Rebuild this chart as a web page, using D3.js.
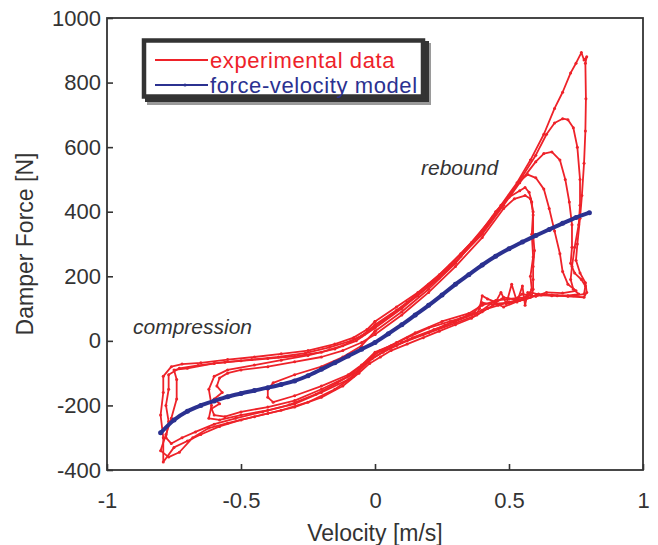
<!DOCTYPE html>
<html>
<head>
<meta charset="utf-8">
<script src="https://cdn.jsdelivr.net/npm/d3@7"></script>
<style>
  body { margin: 0; background: #fff; }
  text { font-family: "Liberation Sans", Arial, sans-serif; fill: #333; }
</style>
</head>
<body>
<svg id="chart" width="658" height="545"></svg>
<script>
const xTicks = [-1, -0.5, 0, 0.5, 1];
const yTicks = [-400, -200, 0, 200, 400, 600, 800, 1000];
const seriesNames = ["experimental data", "force-velocity model"];

// force-velocity model (blue)
const modelVelocity = [-0.8, -0.75, -0.7, -0.65, -0.6, -0.55, -0.5, -0.45, -0.4, -0.35, -0.3, -0.25, -0.2, -0.15, -0.1, -0.05, 0,
  0.05, 0.1, 0.15, 0.2, 0.25, 0.3, 0.35, 0.4, 0.45, 0.5, 0.55, 0.6, 0.65, 0.7, 0.75, 0.8];
const modelForce = [-285, -245, -218, -200, -186, -173, -163, -154, -145, -135, -124, -108, -88, -68, -47, -26, -5,
  22, 50, 80, 110, 142, 175, 205, 235, 262, 285, 306, 326, 345, 364, 382, 397];

// experimental loops (red), [velocity, force]
const loopPeak890 = [[0,60],[0.08,105],[0.16,150],[0.24,205],[0.32,270],[0.4,340],[0.47,420],[0.53,490],[0.58,560],
  [0.63,640],[0.67,720],[0.7,770],[0.73,830],[0.75,860],[0.77,893],[0.78,870],[0.79,880],[0.785,860],[0.787,750],
  [0.785,650],[0.78,550],[0.772,450],[0.765,380],[0.755,300],[0.75,250],[0.765,210],[0.785,180],[0.79,150],[0.78,135],
  [0.72,138],[0.66,142],[0.6,140],[0.56,128],[0.5,118],[0.45,115],[0.4,90],[0.36,70],[0.3,50],[0.24,30],[0.18,10],
  [0.12,-10],[0.06,-30],[0.02,-50],[-0.02,-70],[-0.06,-100],[-0.12,-140],[-0.2,-175],[-0.3,-205],[-0.4,-225],
  [-0.5,-245],[-0.58,-265],[-0.65,-290],[-0.7,-310],[-0.75,-330],[-0.79,-375],[-0.79,-300],[-0.8,-230],[-0.79,-160],
  [-0.79,-110],[-0.76,-80],[-0.72,-72],[-0.65,-68],[-0.55,-58],[-0.45,-50],[-0.35,-40],[-0.25,-30],[-0.15,-10],
  [-0.08,10],[-0.03,35],[0,60]];
const loopPeak690 = [[0,50],[0.08,95],[0.16,140],[0.24,195],[0.32,262],[0.4,335],[0.48,425],[0.55,510],[0.6,575],
  [0.64,640],[0.67,675],[0.7,688],[0.72,685],[0.74,660],[0.755,600],[0.765,500],[0.765,420],[0.76,360],[0.745,290],
  [0.735,230],[0.73,190],[0.74,160],[0.76,145],[0.72,140],[0.66,140],[0.61,145],[0.58,135],[0.54,125],[0.48,105],
  [0.44,120],[0.4,95],[0.36,80],[0.3,60],[0.22,35],[0.14,10],[0.08,-15],[0.03,-35],[-0.02,-60],[-0.08,-110],
  [-0.15,-150],[-0.25,-190],[-0.35,-215],[-0.45,-235],[-0.55,-255],[-0.62,-270],[-0.68,-300],[-0.73,-345],
  [-0.77,-360],[-0.8,-340],[-0.78,-290],[-0.76,-240],[-0.74,-180],[-0.74,-120],[-0.75,-90],[-0.7,-85],[-0.6,-70],
  [-0.5,-62],[-0.4,-55],[-0.3,-48],[-0.2,-35],[-0.12,-15],[-0.05,15],[0,50]];
const loopPeak580 = [[0,40],[0.1,100],[0.2,170],[0.3,245],[0.4,330],[0.48,420],[0.54,490],[0.6,555],[0.63,580],
  [0.66,585],[0.69,560],[0.71,500],[0.725,430],[0.735,360],[0.735,290],[0.73,240],[0.745,210],[0.77,190],[0.785,170],
  [0.78,145],[0.74,140],[0.68,140],[0.62,142],[0.58,150],[0.55,130],[0.5,120],[0.46,110],[0.42,100],[0.38,80],
  [0.3,55],[0.2,25],[0.12,0],[0.06,-20],[0,-40],[-0.05,-80],[-0.1,-120],[-0.2,-160],[-0.3,-195],[-0.4,-215],
  [-0.5,-230],[-0.58,-245],[-0.62,-240],[-0.61,-200],[-0.62,-150],[-0.6,-110],[-0.55,-90],[-0.45,-75],[-0.35,-60],
  [-0.25,-45],[-0.15,-25],[-0.07,0],[0,40]];
const loopPeak520 = [[0,45],[0.06,80],[0.12,120],[0.2,175],[0.28,235],[0.36,305],[0.44,385],[0.5,450],[0.54,495],
  [0.57,515],[0.6,505],[0.63,470],[0.65,410],[0.67,340],[0.69,270],[0.7,215],[0.72,175],[0.75,155],[0.7,148],
  [0.64,150],[0.6,138],[0.55,145],[0.52,128],[0.48,135],[0.44,112],[0.4,118],[0.37,88],[0.32,70],[0.26,48],
  [0.18,20],[0.1,-5],[0.04,-28],[-0.01,-55],[-0.06,-92],[-0.14,-130],[-0.22,-165],[-0.32,-198],[-0.42,-220],
  [-0.52,-240],[-0.6,-258],[-0.67,-282],[-0.72,-300],[-0.76,-318],[-0.78,-300],[-0.77,-250],[-0.78,-200],
  [-0.77,-150],[-0.77,-105],[-0.73,-85],[-0.66,-76],[-0.56,-66],[-0.46,-58],[-0.36,-50],[-0.26,-38],[-0.17,-20],
  [-0.09,0],[-0.04,20],[0,45]];
const loopPeak470 = [[0,30],[0.1,90],[0.2,160],[0.3,240],[0.38,320],[0.45,400],[0.5,445],[0.54,465],[0.56,475],
  [0.575,460],[0.585,430],[0.59,390],[0.59,330],[0.595,280],[0.59,230],[0.59,190],[0.59,160],[0.585,140],[0.57,150],
  [0.56,110],[0.55,170],[0.53,120],[0.51,175],[0.49,115],[0.47,150],[0.45,120],[0.42,130],[0.4,140],[0.39,100],
  [0.38,85],[0.34,75],[0.28,60],[0.2,40],[0.12,10],[0.06,-15],[0,-35],[-0.05,-75],[-0.1,-105],[-0.2,-140],
  [-0.3,-170],[-0.38,-190],[-0.4,-175],[-0.4,-150],[-0.38,-130],[-0.3,-105],[-0.2,-80],[-0.12,-50],[-0.05,-15],[0,30]];
const loopPeak450 = [[0,20],[0.1,80],[0.2,150],[0.3,230],[0.4,320],[0.48,410],[0.52,440],[0.56,450],[0.58,440],
  [0.59,400],[0.585,330],[0.59,260],[0.58,200],[0.585,160],[0.57,135],[0.5,130],[0.45,125],[0.4,110],[0.35,85],
  [0.25,60],[0.15,25],[0.08,-5],[0.02,-30],[-0.04,-70],[-0.1,-110],[-0.2,-150],[-0.3,-185],[-0.4,-205],[-0.5,-220],
  [-0.56,-235],[-0.6,-230],[-0.61,-210],[-0.58,-195],[-0.6,-180],[-0.57,-160],[-0.59,-140],[-0.58,-115],[-0.55,-100],
  [-0.5,-90],[-0.4,-80],[-0.3,-65],[-0.2,-50],[-0.12,-30],[-0.05,-5],[0,20]];

const loops = [loopPeak890, loopPeak690, loopPeak580, loopPeak520, loopPeak470, loopPeak450];

const red = "#ee2229";
const navy = "#2b3190";
const width = 658, height = 545;
const margin = { top: 18, right: 15, bottom: 75, left: 107 };

const svg = d3.select("#chart");

const x = d3.scaleLinear().domain([-1, 1]).range([margin.left, width - margin.right]);
const y = d3.scaleLinear().domain([-400, 1000]).range([height - margin.bottom, margin.top]);

svg.append("defs").append("clipPath").attr("id", "plot-clip")
  .append("rect")
  .attr("x", margin.left).attr("y", margin.top)
  .attr("width", x(1) - x(-1)).attr("height", y(-400) - y(1000));

const plot = svg.append("g").attr("clip-path", "url(#plot-clip)");

const line = d3.line().x((d) => x(d[0])).y((d) => y(d[1]));

// experimental data
const redGroup = plot.append("g").attr("id", "experimental");
redGroup.selectAll("path")
  .data(loops)
  .enter()
  .append("path")
  .attr("d", line)
  .attr("fill", "none")
  .attr("stroke", red)
  .attr("stroke-width", 1.8)
  .attr("stroke-linejoin", "round");
redGroup.selectAll("circle")
  .data(loops.flat())
  .enter()
  .append("circle")
  .attr("cx", (d) => x(d[0]))
  .attr("cy", (d) => y(d[1]))
  .attr("r", 1.5)
  .attr("fill", red);

// model
const modelData = modelVelocity.map((v, i) => [v, modelForce[i]]);
const modelGroup = plot.append("g").attr("id", "model");
modelGroup.append("path")
  .attr("d", d3.line().x((d) => x(d[0])).y((d) => y(d[1])).curve(d3.curveMonotoneX)(modelData))
  .attr("fill", "none")
  .attr("stroke", navy)
  .attr("stroke-width", 4);
modelGroup.selectAll("circle")
  .data(modelData)
  .enter()
  .append("circle")
  .attr("cx", (d) => x(d[0]))
  .attr("cy", (d) => y(d[1]))
  .attr("r", 2.5)
  .attr("fill", navy);

// axes (plain hyphen minus, like the original)
const plainFormat = (d) => String(d);
const xAxis = svg.append("g")
  .attr("transform", `translate(0, ${y(-400)})`)
  .call(d3.axisBottom(x).tickValues(xTicks).tickFormat(plainFormat).tickSizeInner(-6).tickSizeOuter(0).tickPadding(22));
const yAxis = svg.append("g")
  .attr("transform", `translate(${x(-1)}, 0)`)
  .call(d3.axisLeft(y).tickValues(yTicks).tickFormat(plainFormat).tickSizeInner(-6).tickSizeOuter(0).tickPadding(6));

[xAxis, yAxis].forEach((g) => {
  g.selectAll("text").attr("font-size", 22).style("fill", "#333").attr("font-family", null);
  g.selectAll("line").attr("stroke", "#333").attr("stroke-width", 1.6);
  g.select(".domain").remove();
});

// frame
svg.append("rect")
  .attr("x", x(-1)).attr("y", y(1000))
  .attr("width", x(1) - x(-1)).attr("height", y(-400) - y(1000))
  .attr("fill", "none")
  .attr("stroke", "#333")
  .attr("stroke-width", 1.8);

// axis labels
svg.append("text")
  .attr("x", (x(-1) + x(1)) / 2)
  .attr("y", 541)
  .attr("text-anchor", "middle")
  .attr("font-size", 23)
  .text("Velocity [m/s]");
svg.append("text")
  .attr("transform", `translate(33, ${(y(-400) + y(1000)) / 2}) rotate(-90)`)
  .attr("text-anchor", "middle")
  .attr("font-size", 23)
  .text("Damper Force [N]");

// annotations
svg.append("text")
  .attr("x", 133).attr("y", 334)
  .attr("font-size", 21)
  .attr("font-style", "italic")
  .text("compression");
svg.append("text")
  .attr("x", 421).attr("y", 175)
  .attr("font-size", 21)
  .attr("font-style", "italic")
  .text("rebound");

// legend
const legend = svg.append("g").attr("id", "legend");
legend.append("rect")
  .attr("x", 147).attr("y", 43)
  .attr("width", 284).attr("height", 62)
  .attr("fill", "#9a9a9a");
legend.append("rect")
  .attr("x", 145).attr("y", 41)
  .attr("width", 284).attr("height", 61)
  .attr("fill", "#333");
legend.append("rect")
  .attr("x", 144).attr("y", 40.5)
  .attr("width", 279).attr("height", 56)
  .attr("fill", "#fff")
  .attr("stroke", "#333")
  .attr("stroke-width", 4.5);

const legendItems = legend.selectAll(".legend-item")
  .data(seriesNames)
  .enter()
  .append("g")
  .classed("legend-item", true)
  .attr("transform", (d, i) => `translate(155, ${60 + i * 25})`);
legendItems.append("line")
  .attr("x1", 0).attr("x2", 53)
  .attr("stroke", (d, i) => (i ? navy : red))
  .attr("stroke-width", 1.8);
legendItems.filter((d, i) => i === 1)
  .append("circle")
  .attr("cx", 30).attr("r", 1.6)
  .attr("fill", navy);
legendItems.append("text")
  .attr("x", 55)
  .attr("y", 8)
  .attr("font-size", 22)
  .attr("letter-spacing", 0.6)
  .style("fill", (d, i) => (i ? navy : red))
  .text((d) => d);
</script>
</body>
</html>
